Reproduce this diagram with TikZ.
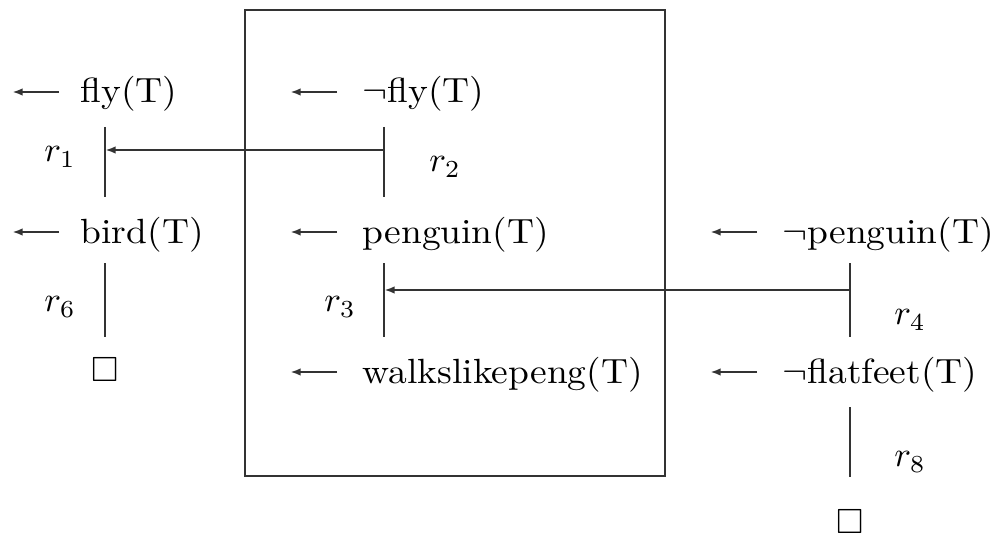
\documentclass[tikz,border=0pt]{standalone}
\usepackage{amssymb}
\usetikzlibrary{arrows.meta}
\newcommand\widetext[1]{\scalebox{1.07}[1]{#1}}
\begin{document}
\begin{tikzpicture}[x=0.2857pt,y=-0.2857pt,
  line/.style={line width=0.65pt, draw=black!80},
  arr/.style={line, -{Latex[length=3pt,width=2.1pt]}},
  txt/.style={anchor=base west, inner sep=0pt, font=\fontsize{10}{12}\selectfont},
  lbl/.style={inner sep=0pt, font=\fontsize{10}{12}\selectfont}]
\useasboundingbox (0,0) rectangle (1005,535);
% frame
\draw[line] (245,10) rectangle (665,476);
% formulas
\node[txt] (fly)   at (80,103)  {\widetext{fly(T)}};
\node[txt] (nfly)  at (362,103) {\widetext{$\neg$fly(T)}};
\node[txt] (bird)  at (80,243)  {\widetext{bird(T)}};
\node[txt] (peng)  at (362,243) {\widetext{penguin(T)}};
\node[txt] (npeng) at (782,243) {\widetext{$\neg$penguin(T)}};
\node[txt] (walk)  at (362,383) {\widetext{walkslikepeng(T)}};
\node[txt] (nflat) at (782,383) {\widetext{$\neg$flatfeet(T)}};
\node[lbl] (box1) at (105,370) {$\square$};
\node[lbl] (box2) at (850,522) {$\square$};
% rule labels
\node[lbl] (r1) at (60,157)  {$r_1$};
\node[lbl] (r2) at (445,167) {$r_2$};
\node[lbl] (r6) at (60,307)  {$r_6$};
\node[lbl] (r3) at (340,307) {$r_3$};
\node[lbl] (r4) at (910,320) {$r_4$};
\node[lbl] (r8) at (910,462) {$r_8$};
% short arrows before formulas
\foreach \n/\x/\y in {a1/12/92, a2/290/92, a3/12/232, a4/290/232, a5/710/232, a6/290/372, a7/710/372}{
  \coordinate (\n s) at (\x+47,\y);
  \coordinate (\n e) at (\x,\y);
  \draw[arr] (\n s) -- (\n e);
}
% vertical rule lines
\foreach \n/\x/\ya/\yb in {v1/105/127/197, v2/105/263/337, v3/384/127/197, v4/384/263/337, v5/850/263/337, v6/850/407/477}{
  \coordinate (\n t) at (\x,\ya);
  \coordinate (\n b) at (\x,\yb);
  \draw[line] (\n t) -- (\n b);
}
% attack arrows
\coordinate (h1s) at (384,150);
\coordinate (h1e) at (105,150);
\coordinate (h2s) at (850,290);
\coordinate (h2e) at (384,290);
\draw[arr] (h1s) -- (h1e);
\draw[arr] (h2s) -- (h2e);
\end{tikzpicture}
\end{document}
